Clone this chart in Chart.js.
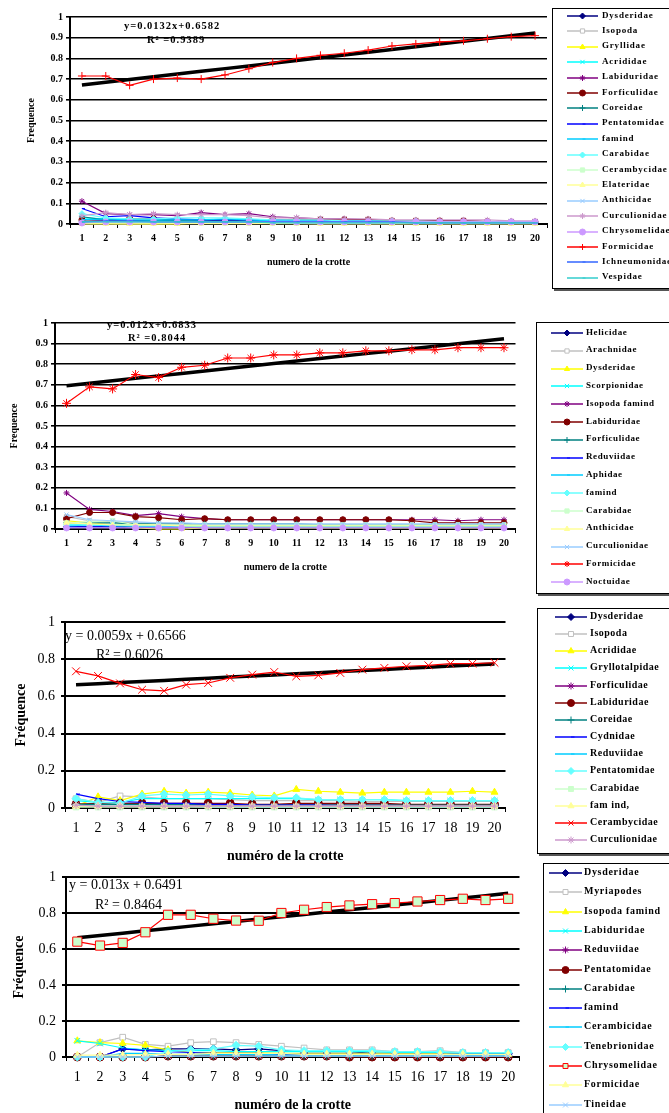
<!DOCTYPE html>
<html>
<head>
<meta charset="utf-8">
<script src="https://cdn.jsdelivr.net/npm/chart.js@4.4.1/dist/chart.umd.min.js"></script>
<style>
    body { margin: 0; background: #fff; width: 669px; height: 1113px; overflow: hidden; position: relative; font-family: "Liberation Serif", "Times New Roman", serif; }
    canvas.graphe { position: absolute; left: 0; }
    .eq { position: absolute; white-space: nowrap; color: #000; line-height: 1; }
    .legende { position: absolute; background: #fff; border: 1px solid #000; box-shadow: 2px 2px 0 #555; }
    .legende canvas { position: absolute; }
    .legende span { position: absolute; white-space: nowrap; font-weight: bold; color: #000; line-height: 1; }
</style>
</head>
<body>

<canvas id="g1" class="graphe"></canvas>
<canvas id="g2" class="graphe"></canvas>
<canvas id="g3" class="graphe"></canvas>
<canvas id="g4" class="graphe"></canvas>

<script>
const crottes = ['1', '2', '3', '4', '5', '6', '7', '8', '9', '10', '11', '12', '13', '14', '15', '16', '17', '18', '19', '20'];

// ---- crottes série 1 ----
const familles1 = ['Dysderidae', 'Isopoda', 'Gryllidae', 'Acrididae', 'Labiduridae', 'Forficulidae', 'Coreidae', 'Pentatomidae', 'famind',
    'Carabidae', 'Cerambycidae', 'Elateridae', 'Anthicidae', 'Curculionidae', 'Chrysomelidae', 'Formicidae', 'Ichneumonidae', 'Vespidae'];
const freq1 = [
    [0.01, 0.015, 0.015, 0.02, 0.015, 0.015, 0.015, 0.01, 0.01, 0.01, 0.01, 0.01, 0.01, 0.005, 0.005, 0.005, 0.005, 0.005, 0.005, 0.005],
    [0.005, 0.005, 0.005, 0.005, 0.005, 0.005, 0.005, 0.005, 0.005, 0.005, 0.005, 0.005, 0.005, 0.005, 0.005, 0.005, 0.005, 0.005, 0.005, 0.005],
    [0.002, 0.002, 0, 0.002, 0, 0.005, 0.005, 0.005, 0.005, 0.005, 0.005, 0.005, 0.005, 0.003, 0.003, 0.003, 0.003, 0.003, 0.003, 0.003],
    [0.03, 0.025, 0.02, 0.02, 0.02, 0.02, 0.02, 0.015, 0.015, 0.015, 0.01, 0.01, 0.01, 0.01, 0.01, 0.01, 0.01, 0.01, 0.01, 0.01],
    [0.11, 0.05, 0.045, 0.045, 0.04, 0.055, 0.045, 0.05, 0.035, 0.03, 0.025, 0.025, 0.02, 0.015, 0.015, 0.015, 0.015, 0.012, 0.01, 0.01],
    [0.02, 0.02, 0.025, 0.025, 0.02, 0.02, 0.02, 0.02, 0.02, 0.02, 0.02, 0.02, 0.02, 0.015, 0.015, 0.015, 0.015, 0.012, 0.01, 0.01],
    [0.035, 0.02, 0.02, 0.02, 0.02, 0.02, 0.02, 0.02, 0.015, 0.015, 0.015, 0.015, 0.015, 0.01, 0.01, 0.01, 0.01, 0.01, 0.01, 0.01],
    [0.075, 0.035, 0.04, 0.03, 0.025, 0.02, 0.02, 0.02, 0.02, 0.015, 0.015, 0.015, 0.015, 0.01, 0.01, 0.01, 0.01, 0.01, 0.01, 0.01],
    [0.02, 0.025, 0.02, 0.02, 0.02, 0.02, 0.025, 0.02, 0.015, 0.015, 0.015, 0.01, 0.01, 0.01, 0.01, 0.01, 0.01, 0.01, 0.01, 0.01],
    [0.05, 0.03, 0.025, 0.025, 0.03, 0.03, 0.03, 0.025, 0.02, 0.02, 0.02, 0.015, 0.015, 0.015, 0.015, 0.01, 0.01, 0.01, 0.01, 0.01],
    [0.005, 0.005, 0.005, 0.005, 0.005, 0.005, 0.005, 0.005, 0.005, 0.005, 0.005, 0.005, 0.005, 0.005, 0.005, 0.005, 0.005, 0.005, 0.005, 0.005],
    [0, 0, 0, 0, 0.002, 0.002, 0.002, 0.002, 0.002, 0.002, 0, 0, 0, 0, 0, 0, 0, 0, 0, 0],
    [0.01, 0.01, 0.01, 0.01, 0.01, 0.01, 0.01, 0.01, 0.01, 0.005, 0.005, 0.005, 0.005, 0.005, 0.005, 0.005, 0.005, 0.005, 0.005, 0.005],
    [0.04, 0.055, 0.045, 0.05, 0.045, 0.045, 0.045, 0.04, 0.03, 0.03, 0.025, 0.025, 0.025, 0.02, 0.02, 0.02, 0.02, 0.02, 0.015, 0.015],
    [0.005, 0.01, 0.01, 0.01, 0.01, 0.01, 0.01, 0.01, 0.01, 0.01, 0.01, 0.01, 0.01, 0.01, 0.01, 0.01, 0.01, 0.01, 0.01, 0.01],
    [0.715, 0.715, 0.67, 0.70, 0.705, 0.70, 0.72, 0.75, 0.78, 0.80, 0.815, 0.825, 0.84, 0.86, 0.87, 0.88, 0.885, 0.895, 0.905, 0.91],
    [0.01, 0.015, 0.015, 0.01, 0.01, 0.01, 0.01, 0.01, 0.01, 0.01, 0.01, 0.01, 0.01, 0.01, 0.005, 0.005, 0.005, 0.005, 0.005, 0.005],
    [0.01, 0.01, 0.01, 0.01, 0.01, 0.01, 0.01, 0.01, 0.005, 0.005, 0.005, 0.005, 0.005, 0.005, 0.005, 0.005, 0.005, 0.005, 0.005, 0.005]
];
const tendance1 = { pente: 0.0132, origine: 0.6582, r2: '0.9389' };

// ---- crottes série 2 ----
const familles2 = ['Helicidae', 'Arachnidae', 'Dysderidae', 'Scorpionidae', 'Isopoda famind', 'Labiduridae', 'Forficulidae', 'Reduviidae',
    'Aphidae', 'famind', 'Carabidae', 'Anthicidae', 'Curculionidae', 'Formicidae', 'Noctuidae'];
const freq2 = [
    [0.01, 0.01, 0.01, 0.005, 0.005, 0.005, 0.005, 0.005, 0.005, 0.005, 0.005, 0.005, 0.005, 0.005, 0.005, 0.005, 0.005, 0.005, 0.005, 0.005],
    [0.06, 0.04, 0.035, 0.03, 0.03, 0.025, 0.02, 0.02, 0.02, 0.02, 0.02, 0.02, 0.02, 0.015, 0.015, 0.015, 0.015, 0.015, 0.015, 0.015],
    [0.04, 0.03, 0.02, 0.005, 0, 0, 0.005, 0.005, 0.005, 0.005, 0.005, 0.005, 0.005, 0.005, 0.005, 0.005, 0.005, 0.005, 0.005, 0.005],
    [0.02, 0.02, 0.02, 0.02, 0.02, 0.015, 0.015, 0.015, 0.015, 0.015, 0.015, 0.015, 0.015, 0.015, 0.015, 0.015, 0.015, 0.015, 0.015, 0.015],
    [0.175, 0.095, 0.085, 0.065, 0.075, 0.06, 0.05, 0.045, 0.045, 0.045, 0.045, 0.045, 0.045, 0.045, 0.045, 0.045, 0.045, 0.04, 0.045, 0.045],
    [0.05, 0.08, 0.08, 0.06, 0.055, 0.045, 0.05, 0.045, 0.045, 0.045, 0.045, 0.045, 0.045, 0.045, 0.045, 0.04, 0.03, 0.03, 0.03, 0.03],
    [0.03, 0.03, 0.03, 0.025, 0.025, 0.025, 0.025, 0.025, 0.025, 0.025, 0.025, 0.02, 0.02, 0.02, 0.02, 0.02, 0.02, 0.02, 0.02, 0.02],
    [0.01, 0.01, 0.01, 0.01, 0.01, 0.01, 0.01, 0.01, 0.01, 0.01, 0.01, 0.01, 0.01, 0.01, 0.01, 0.01, 0.01, 0.01, 0.01, 0.01],
    [0.015, 0.02, 0.015, 0.015, 0.015, 0.015, 0.01, 0.01, 0.01, 0.01, 0.01, 0.01, 0.01, 0.01, 0.01, 0.01, 0.01, 0.01, 0.01, 0.01],
    [0.02, 0.02, 0.02, 0.015, 0.015, 0.015, 0.015, 0.015, 0.015, 0.015, 0.015, 0.015, 0.015, 0.015, 0.015, 0.015, 0.015, 0.015, 0.015, 0.015],
    [0.03, 0.035, 0.04, 0.02, 0.02, 0.02, 0.02, 0.02, 0.02, 0.02, 0.02, 0.02, 0.02, 0.02, 0.02, 0.02, 0.02, 0.02, 0.02, 0.02],
    [0.03, 0.025, 0.02, 0.02, 0.02, 0.015, 0.015, 0.015, 0.015, 0.015, 0.015, 0.015, 0.015, 0.015, 0.015, 0.015, 0.015, 0.015, 0.015, 0.015],
    [0.07, 0.045, 0.04, 0.035, 0.03, 0.03, 0.025, 0.025, 0.025, 0.025, 0.025, 0.025, 0.025, 0.025, 0.025, 0.025, 0.025, 0.025, 0.025, 0.025],
    [0.61, 0.69, 0.68, 0.75, 0.735, 0.785, 0.795, 0.83, 0.83, 0.845, 0.845, 0.855, 0.855, 0.865, 0.865, 0.87, 0.87, 0.88, 0.88, 0.88],
    [0.005, 0.005, 0.005, 0.005, 0.005, 0.005, 0.005, 0.005, 0.005, 0.005, 0.005, 0.005, 0.005, 0.005, 0.005, 0.005, 0.005, 0.005, 0.005, 0.005]
];
const tendance2 = { pente: 0.012, origine: 0.6833, r2: '0.8044' };

// ---- crottes série 3 ----
const familles3 = ['Dysderidae', 'Isopoda', 'Acrididae', 'Gryllotalpidae', 'Forficulidae', 'Labiduridae', 'Coreidae', 'Cydnidae',
    'Reduviidae', 'Pentatomidae', 'Carabidae', 'fam ind,', 'Cerambycidae', 'Curculionidae'];
const freq3 = [
    [0.02, 0.02, 0.02, 0.02, 0.02, 0.015, 0.015, 0.015, 0.015, 0.015, 0.015, 0.015, 0.015, 0.015, 0.015, 0.015, 0.015, 0.015, 0.015, 0.015],
    [0.05, 0.03, 0.065, 0.06, 0.05, 0.05, 0.05, 0.045, 0.04, 0.04, 0.04, 0.04, 0.04, 0.035, 0.035, 0.035, 0.035, 0.035, 0.035, 0.035],
    [0.01, 0.06, 0.04, 0.075, 0.09, 0.08, 0.085, 0.08, 0.07, 0.065, 0.1, 0.09, 0.085, 0.08, 0.085, 0.085, 0.085, 0.085, 0.09, 0.085],
    [0.04, 0.03, 0.03, 0.05, 0.05, 0.05, 0.05, 0.05, 0.05, 0.05, 0.05, 0.045, 0.045, 0.045, 0.045, 0.04, 0.04, 0.04, 0.04, 0.04],
    [0.02, 0.02, 0.02, 0.02, 0.015, 0.015, 0.015, 0.015, 0.015, 0.015, 0.015, 0.015, 0.015, 0.015, 0.015, 0.015, 0.015, 0.015, 0.015, 0.015],
    [0.02, 0.025, 0.025, 0.025, 0.025, 0.025, 0.025, 0.025, 0.02, 0.02, 0.025, 0.025, 0.025, 0.025, 0.025, 0.02, 0.02, 0.02, 0.02, 0.02],
    [0.02, 0.02, 0.02, 0.02, 0.02, 0.02, 0.015, 0.015, 0.015, 0.015, 0.015, 0.015, 0.015, 0.015, 0.015, 0.015, 0.015, 0.015, 0.015, 0.015],
    [0.075, 0.05, 0.035, 0.03, 0.025, 0.025, 0.02, 0.02, 0.015, 0.015, 0.015, 0.015, 0.01, 0.01, 0.01, 0.01, 0.01, 0.01, 0.01, 0.01],
    [0.01, 0.01, 0.01, 0.01, 0.01, 0.01, 0.005, 0.005, 0.005, 0.005, 0.005, 0.005, 0.005, 0.005, 0.005, 0.005, 0.005, 0.005, 0.005, 0.005],
    [0.05, 0.03, 0.025, 0.065, 0.075, 0.07, 0.075, 0.065, 0.06, 0.055, 0.055, 0.045, 0.045, 0.045, 0.045, 0.04, 0.04, 0.04, 0.04, 0.04],
    [0.005, 0.005, 0.005, 0.005, 0.005, 0.005, 0.005, 0.005, 0.005, 0.005, 0.005, 0.005, 0.005, 0.005, 0.005, 0.005, 0.005, 0.005, 0.005, 0.005],
    [0.01, 0.01, 0.01, 0.01, 0.01, 0.01, 0.01, 0.01, 0.01, 0.01, 0.01, 0.01, 0.01, 0.01, 0.01, 0.01, 0.01, 0.01, 0.01, 0.01],
    [0.735, 0.71, 0.67, 0.636, 0.63, 0.663, 0.672, 0.70, 0.717, 0.731, 0.708, 0.713, 0.726, 0.744, 0.753, 0.762, 0.767, 0.776, 0.776, 0.781],
    [0.015, 0.01, 0.01, 0.01, 0.01, 0.01, 0.01, 0.01, 0.01, 0.01, 0.01, 0.01, 0.01, 0.01, 0.01, 0.01, 0.01, 0.01, 0.01, 0.01]
];
const tendance3 = { pente: 0.0059, origine: 0.6566, r2: '0.6026' };

// ---- crottes série 4 ----
const familles4 = ['Dysderidae', 'Myriapodes', 'Isopoda famind', 'Labiduridae', 'Reduviidae', 'Pentatomidae', 'Carabidae', 'famind',
    'Cerambicidae', 'Tenebrionidae', 'Chrysomelidae', 'Formicidae', 'Tineidae'];
const freq4 = [
    [0, 0, 0.045, 0.04, 0.045, 0.045, 0.045, 0.04, 0.045, 0.035, 0.03, 0.03, 0.03, 0.02, 0.02, 0.02, 0.02, 0.02, 0.02, 0.02],
    [0, 0.08, 0.11, 0.07, 0.06, 0.08, 0.085, 0.08, 0.07, 0.06, 0.05, 0.04, 0.04, 0.04, 0.03, 0.03, 0.035, 0.025, 0.025, 0.025],
    [0.09, 0.08, 0.075, 0.065, 0.04, 0.025, 0.025, 0.025, 0.025, 0.02, 0.02, 0.02, 0.02, 0.02, 0.02, 0.02, 0.02, 0.015, 0.015, 0.015],
    [0.09, 0.075, 0.05, 0.04, 0.035, 0.035, 0.035, 0.03, 0.03, 0.03, 0.03, 0.03, 0.03, 0.03, 0.025, 0.025, 0.025, 0.02, 0.02, 0.02],
    [0, 0, 0, 0, 0.005, 0.005, 0.005, 0.005, 0.005, 0.005, 0.005, 0.005, 0.005, 0.005, 0.005, 0.005, 0.005, 0.005, 0.005, 0.005],
    [0, 0, 0, 0, 0.005, 0.005, 0.005, 0.005, 0.005, 0.005, 0.005, 0.005, 0, 0, 0, 0, 0, 0, 0, 0],
    [0, 0, 0, 0, 0.005, 0.005, 0.005, 0.005, 0.005, 0.005, 0.005, 0.005, 0.005, 0.005, 0.005, 0.005, 0.005, 0.005, 0.005, 0.005],
    [0, 0, 0.045, 0.035, 0.03, 0.025, 0.02, 0.02, 0.02, 0.015, 0.015, 0.015, 0.015, 0.015, 0.015, 0.015, 0.015, 0.015, 0.015, 0.015],
    [0, 0, 0.02, 0.02, 0.015, 0.015, 0.015, 0.015, 0.015, 0.01, 0.01, 0.01, 0.01, 0.01, 0.01, 0.01, 0.01, 0.01, 0.01, 0.01],
    [0, 0, 0, 0, 0.03, 0.04, 0.045, 0.065, 0.06, 0.04, 0.035, 0.035, 0.035, 0.035, 0.03, 0.03, 0.03, 0.025, 0.025, 0.025],
    [0.641, 0.619, 0.634, 0.693, 0.79, 0.79, 0.768, 0.758, 0.757, 0.80, 0.818, 0.833, 0.842, 0.849, 0.855, 0.864, 0.872, 0.879, 0.872, 0.879],
    [0.01, 0.01, 0.01, 0.015, 0.015, 0.015, 0.02, 0.02, 0.02, 0.02, 0.015, 0.015, 0.015, 0.015, 0.015, 0.015, 0.015, 0.015, 0.015, 0.015],
    [0, 0, 0, 0, 0.005, 0.005, 0.005, 0.005, 0.005, 0.005, 0.005, 0.005, 0.005, 0.005, 0.005, 0.005, 0.005, 0.005, 0.005, 0.005]
];
const tendance4 = { pente: 0.013, origine: 0.6491, r2: '0.8464' };

// couleurs et marqueurs par position de série (palette Excel)
const couleurs = ['#000080', '#C0C0C0', '#FFFF00', '#00FFFF', '#800080', '#800000', '#008080', '#0000FF', '#00CCFF',
    '#66FFFF', '#CCFFCC', '#FFFF99', '#99CCFF', '#CC99CC', '#CC99FF', '#FF0000', '#3366FF', '#33CCCC'];
const marqueurs = ['rectRot', 'rect', 'triangle', 'crossRot', 'star', 'circle', 'cross', 'dash', 'dash',
    'rectRot', 'rect', 'triangle', 'crossRot', 'star', 'circle', 'cross', 'dash', 'dash'];

function styleSerie(i, principale) {
    if (i === principale.index) {
        return { couleur: '#FF0000', fond: principale.fond || '#FF0000', marqueur: principale.marqueur };
    }
    return { couleur: couleurs[i], fond: i === 1 ? '#FFFFFF' : couleurs[i], marqueur: marqueurs[i] };
}

function dessinerGraphe(id, familles, freq, tendance, principale, g) {
    const canvas = document.getElementById(id);
    canvas.width = g.width;
    canvas.height = g.height;
    canvas.style.top = g.top + 'px';

    const styles = familles.map((_, i) => styleSerie(i, principale));

    // les séries suivantes passent par-dessus les premières, la série rouge tout en haut
    const datasets = familles.map((nom, i) => ({
        label: nom,
        data: freq[i],
        borderColor: styles[i].couleur,
        backgroundColor: styles[i].fond,
        pointBorderColor: styles[i].couleur,
        pointBackgroundColor: styles[i].fond,
        pointStyle: styles[i].marqueur,
        pointRadius: i === principale.index ? principale.rayon : g.rayon,
        pointBorderWidth: 1,
        borderWidth: 1.2,
        tension: 0,
        clip: false,
        order: i === principale.index ? 0 : 100 - i
    }));

    // droite de tendance linéaire
    datasets.push({
        label: 'tendance',
        data: crottes.map(c => tendance.pente * Number(c) + tendance.origine),
        borderColor: '#000',
        borderWidth: 3.5,
        pointRadius: 0,
        tension: 0,
        order: 1
    });

    new Chart(canvas, {
        type: 'line',
        data: { labels: crottes, datasets: datasets },
        options: {
            responsive: false,
            animation: false,
            events: [],
            layout: { padding: { top: g.padTop, right: 2, left: 0, bottom: 0 } },
            plugins: { legend: { display: false }, tooltip: { enabled: false } },
            scales: {
                x: {
                    offset: true,
                    afterFit: s => { s.height = g.xHeight; },
                    grid: { offset: true, drawOnChartArea: false, color: '#000', tickLength: 4, lineWidth: 1 },
                    border: { color: '#000', width: 2 },
                    ticks: { color: '#000', font: g.fontTicks, padding: g.xTickPad, maxRotation: 0, autoSkip: false },
                    title: { display: true, text: g.titreX, color: '#000', font: g.fontTitre, padding: { top: 0, bottom: g.xTitrePad } }
                },
                y: {
                    min: 0,
                    max: 1,
                    afterFit: s => { s.width = g.yWidth; },
                    grid: { color: '#000', lineWidth: g.grille, tickLength: 4 },
                    border: { color: '#000', width: 2 },
                    ticks: {
                        stepSize: g.pas,
                        color: '#000',
                        font: g.fontTicks,
                        padding: g.yTickPad,
                        callback: v => (v === 0 || v === 1) ? String(v) : v.toFixed(1)
                    },
                    title: { display: true, text: g.titreY, color: '#000', font: g.fontTitre, padding: { top: g.yTitrePad, bottom: 0 } }
                }
            }
        }
    });

    // équation et R² de la tendance
    const ligne1 = g.espaces ? `y = ${tendance.pente}x + ${tendance.origine}` : `y=${tendance.pente}x+${tendance.origine}`;
    const ligne2 = g.espaces ? `R\u00b2 = ${tendance.r2}` : `R\u00b2 =${tendance.r2}`;
    [[ligne1, g.eq[0]], [ligne2, g.eq[1]]].forEach(([texte, pos]) => {
        const d = document.createElement('div');
        d.className = 'eq';
        d.textContent = texte;
        d.style.left = pos[0] + 'px';
        d.style.top = pos[1] + 'px';
        d.style.font = g.fontEq;
        d.style.letterSpacing = g.espEq + 'px';
        document.body.appendChild(d);
    });

    dessinerLegende(familles, styles, g.leg);
}

function dessinerLegende(familles, styles, l) {
    const boite = document.createElement('div');
    boite.className = 'legende';
    boite.style.left = l.left + 'px';
    boite.style.top = l.top + 'px';
    boite.style.width = l.width + 'px';
    boite.style.height = l.height + 'px';

    familles.forEach((nom, i) => {
        const cy = l.first - l.top - 1 + i * l.step;
        const ic = document.createElement('canvas');
        ic.width = l.x1 - l.x0 + 12;
        ic.height = 14;
        ic.style.left = (l.x0 - l.left - 1 - 6) + 'px';
        ic.style.top = (cy - 7) + 'px';
        const ctx = ic.getContext('2d');
        ctx.strokeStyle = styles[i].couleur;
        ctx.lineWidth = 1.5;
        ctx.beginPath();
        ctx.moveTo(6, 7);
        ctx.lineTo(ic.width - 6, 7);
        ctx.stroke();
        ctx.fillStyle = styles[i].fond;
        ctx.strokeStyle = styles[i].couleur;
        ctx.lineWidth = 1;
        Chart.helpers.drawPoint(ctx, { pointStyle: styles[i].marqueur, radius: l.r, borderWidth: 1, rotation: 0 }, ic.width / 2, 7);
        boite.appendChild(ic);

        const t = document.createElement('span');
        t.textContent = nom;
        t.style.left = (l.tx - l.left - 1) + 'px';
        t.style.top = (cy - l.font / 2 - 1) + 'px';
        t.style.fontSize = l.font + 'px';
        t.style.letterSpacing = l.ls + 'px';
        boite.appendChild(t);
    });
    document.body.appendChild(boite);
}

const petit = { family: '"Liberation Serif", serif', size: 10, weight: 'bold' };
const petitTitre = { family: '"Liberation Serif", serif', size: 10, weight: 'bold' };
const grand = { family: '"Liberation Serif", serif', size: 14 };
const grandTitre = { family: '"Liberation Serif", serif', size: 14, weight: 'bold' };

dessinerGraphe('g1', familles1, freq1, tendance1, { index: 15, marqueur: 'cross', rayon: 4 }, {
    top: 0, width: 552, height: 272, padTop: 17, xHeight: 48, yWidth: 70, pas: 0.1, grille: 1.6, rayon: 3,
    fontTicks: petit, fontTitre: petitTitre, xTickPad: 4, yTickPad: 3, xTitrePad: 4, yTitrePad: 25,
    titreX: 'numero de la crotte', titreY: 'Frequence',
    eq: [[124, 20], [147, 34]], fontEq: 'bold 10.5px "Liberation Serif", serif', espEq: 1, espaces: false,
    leg: { left: 552, top: 8, width: 125, height: 279, first: 16, step: 15.4, x0: 567, x1: 598, tx: 602, font: 9, ls: 0.8, r: 3 }
});

dessinerGraphe('g2', familles2, freq2, tendance2, { index: 13, marqueur: 'star', rayon: 4.5 }, {
    top: 300, width: 521, height: 275, padTop: 23, xHeight: 46, yWidth: 55, pas: 0.1, grille: 1.6, rayon: 3,
    fontTicks: petit, fontTitre: petitTitre, xTickPad: 4, yTickPad: 3, xTitrePad: 2, yTitrePad: 8,
    titreX: 'numero de la crotte', titreY: 'Frequence',
    eq: [[107, 319], [128, 332]], fontEq: 'bold 10.5px "Liberation Serif", serif', espEq: 1, espaces: false,
    leg: { left: 536, top: 322, width: 140, height: 270, first: 333, step: 17.8, x0: 551, x1: 583, tx: 586, font: 9, ls: 0.6, r: 3 }
});

dessinerGraphe('g3', familles3, freq3, tendance3, { index: 12, marqueur: 'crossRot', rayon: 5.5 }, {
    top: 600, width: 512, height: 267, padTop: 22, xHeight: 59, yWidth: 65, pas: 0.2, grille: 2, rayon: 4,
    fontTicks: grand, fontTitre: grandTitre, xTickPad: 8, yTickPad: 6, xTitrePad: 2.6, yTitrePad: 12.6,
    titreX: 'numéro de la crotte', titreY: 'Fréquence',
    eq: [[65, 628], [96, 647]], fontEq: '14px "Liberation Serif", serif', espEq: 0, espaces: true,
    leg: { left: 537, top: 608, width: 140, height: 244, first: 617, step: 17.15, x0: 555, x1: 587, tx: 590, font: 10, ls: 0.5, r: 3.5 }
});

dessinerGraphe('g4', familles4, freq4, tendance4, { index: 10, marqueur: 'rect', fond: '#CCFFCC', rayon: 6.5 }, {
    top: 860, width: 527, height: 254, padTop: 17, xHeight: 57, yWidth: 66, pas: 0.2, grille: 2, rayon: 4,
    fontTicks: grand, fontTitre: grandTitre, xTickPad: 7.6, yTickPad: 6, xTitrePad: 0.6, yTitrePad: 10.6,
    titreX: 'numéro de la crotte', titreY: 'Fréquence',
    eq: [[69, 877], [95, 897]], fontEq: '14px "Liberation Serif", serif', espEq: 0, espaces: true,
    leg: { left: 543, top: 863, width: 140, height: 260, first: 873, step: 19.3, x0: 549, x1: 582, tx: 584, font: 10, ls: 0.7, r: 3.5 }
});
</script>
</body>
</html>
